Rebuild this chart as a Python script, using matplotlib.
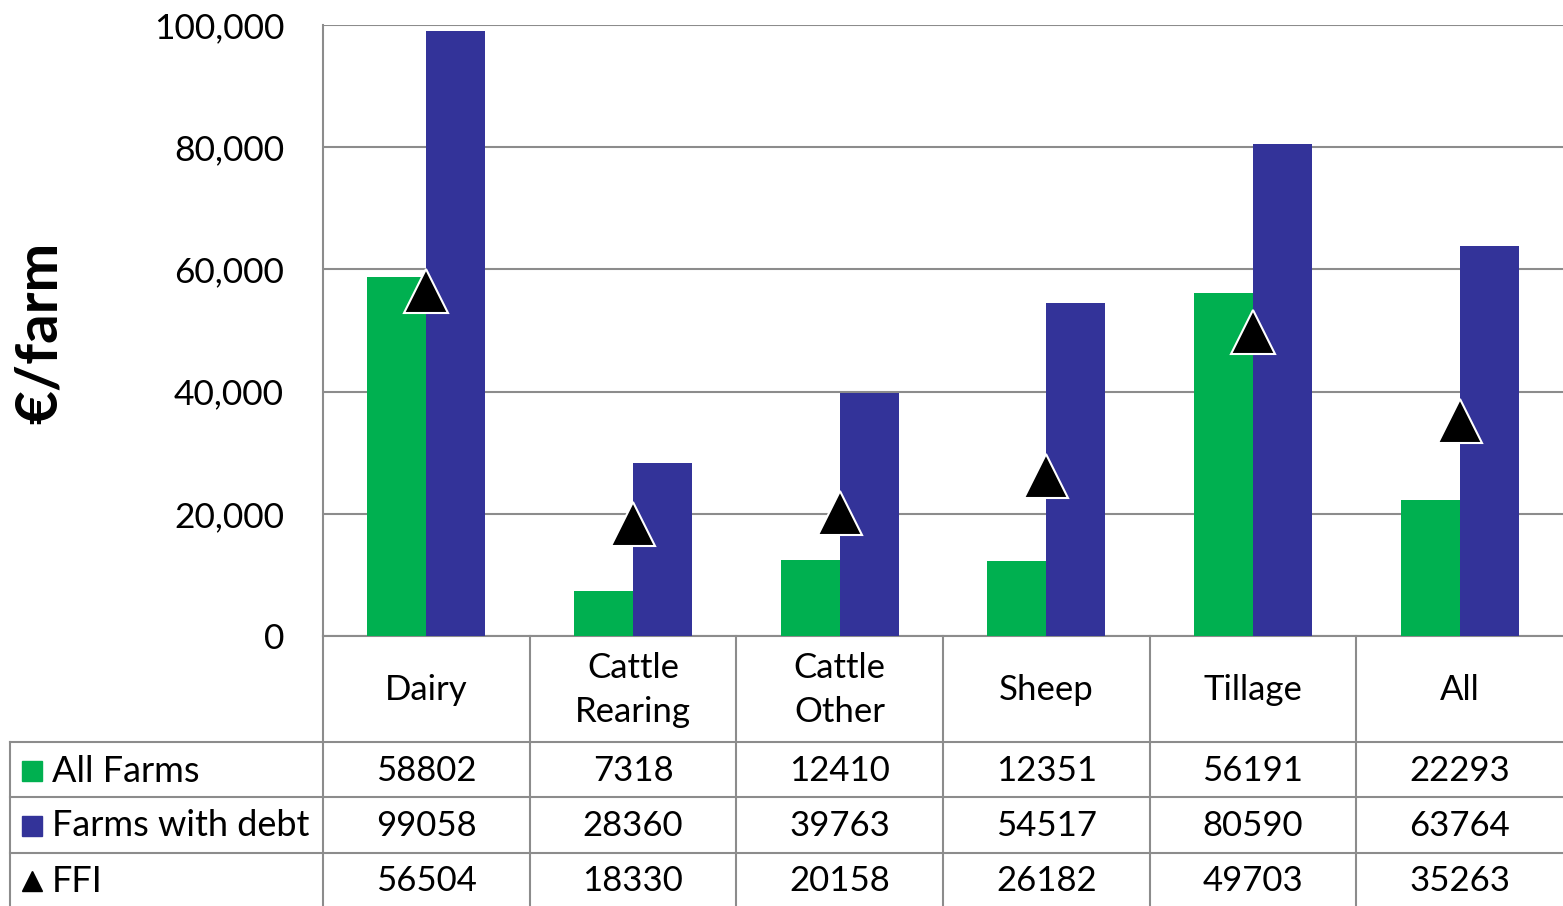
import matplotlib
matplotlib.use("Agg")
import matplotlib.pyplot as plt
from matplotlib.transforms import blended_transform_factory
from matplotlib.lines import Line2D
from matplotlib.ticker import FuncFormatter
import numpy as np

categories = ["Dairy", "Cattle\nRearing", "Cattle\nOther", "Sheep", "Tillage", "All"]
all_farms = [58802, 7318, 12410, 12351, 56191, 22293]
farms_with_debt = [99058, 28360, 39763, 54517, 80590, 63764]
ffi = [56504, 18330, 20158, 26182, 49703, 35263]
series_names = ["All Farms", "Farms with debt", "FFI"]

GREEN = "#00b050"
BLUE = "#333399"
GRID = "#8c8c8c"

plt.rcParams["font.family"] = ["Lato", "DejaVu Sans"]

W, H = 1563, 906
fig = plt.figure(figsize=(W / 100, H / 100), dpi=100)

# plot area in pixel coordinates
left_px, right_px, top_px, bottom_px = 323, 1563, 25, 636
ax = fig.add_axes([left_px / W, (H - bottom_px) / H,
                   (right_px - left_px) / W, (bottom_px - top_px) / H])

x = np.arange(len(categories))
bw = 0.285
ax.bar(x - bw / 2, all_farms, width=bw, color=GREEN, zorder=2)
ax.bar(x + bw / 2, farms_with_debt, width=bw, color=BLUE, zorder=2)
ax.plot(x, ffi, linestyle="none", marker="^", markersize=32,
        markerfacecolor="black", markeredgecolor="white",
        markeredgewidth=1.5, zorder=3)

ax.set_xlim(-0.5, len(categories) - 0.5)
ax.set_ylim(0, 100000)
ax.set_yticks(np.arange(0, 100001, 20000))
ax.yaxis.set_major_formatter(FuncFormatter(lambda v, p: f"{int(v):,}"))
ax.tick_params(axis="y", length=0, pad=28, labelsize=25.5)
ax.set_xticks([])
ax.grid(axis="y", color=GRID, linewidth=1.5, zorder=0)
for s in ["top", "right", "bottom"]:
    ax.spines[s].set_visible(False)
ax.spines["left"].set_color(GRID)
ax.spines["left"].set_linewidth(1.5)

fig.text(40 / W, 1 - 333 / H, "€/farm", rotation=90, fontsize=42,
         fontweight="bold", ha="center", va="center")

# data table below the plot area
plot_h = bottom_px - top_px
def ay(py):
    return -(py - bottom_px) / plot_h

trans = blended_transform_factory(ax.transData, ax.transAxes)
line_kw = dict(color=GRID, linewidth=1.5, clip_on=False, zorder=1)

# horizontal rules
ax.add_line(Line2D([-0.5, len(categories) - 0.5], [0, 0], transform=trans, **line_kw))
for py in [742, 797, 853]:
    ax.add_line(Line2D([10 / W, 1.0], [1 - py / H, 1 - py / H],
                       transform=fig.transFigure, **line_kw))
# vertical rules
for xi in np.arange(0.5, len(categories) - 0.5, 1.0):
    ax.add_line(Line2D([xi, xi], [0, ay(906)], transform=trans, **line_kw))
ax.add_line(Line2D([-0.5, -0.5], [0, ay(906)], transform=trans, **line_kw))
ax.add_line(Line2D([10 / W, 10 / W], [1 - 742 / H, 0],
                   transform=fig.transFigure, **line_kw))

# header row with category names
for xi, name in zip(x, categories):
    ax.text(xi, ay(690), name, transform=trans, ha="center", va="center",
            fontsize=25, linespacing=1.5, clip_on=False)

# value rows
row_centers = [771, 826, 881]
for rc, vals in zip(row_centers, [all_farms, farms_with_debt, ffi]):
    for xi, v in zip(x, vals):
        ax.text(xi, ay(rc), str(v), transform=trans, ha="center",
                va="center", fontsize=25, clip_on=False)

# row labels with legend keys
key_styles = [dict(marker="s", color=GREEN), dict(marker="s", color=BLUE),
              dict(marker="^", color="black")]
for rc, name, ks in zip(row_centers, series_names, key_styles):
    fy = 1 - rc / H
    fig.add_artist(Line2D([32 / W], [fy], marker=ks["marker"],
                          markersize=15, markerfacecolor=ks["color"],
                          markeredgecolor=ks["color"], linestyle="none",
                          transform=fig.transFigure))
    fig.text(52 / W, fy, name, fontsize=26, ha="left", va="center")

fig.savefig("out.png", dpi=100)
